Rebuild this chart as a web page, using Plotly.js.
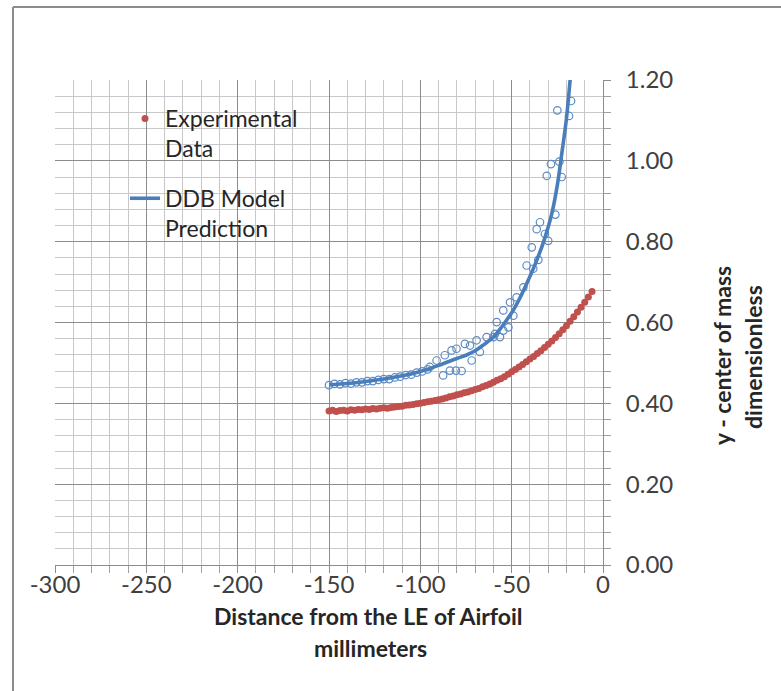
<!DOCTYPE html>
<html>
<head>
<meta charset="utf-8">
<script src="https://cdn.plot.ly/plotly-3.0.1.min.js"></script>
<style>html,body{margin:0;padding:0;background:#fff;}#chart{width:781px;height:691px;}</style>
</head>
<body>
<div id="chart"></div>
<script>
// Experimental data (red markers)
const expX = [-150,-148,-146,-144,-142,-140,-138,-136,-134,-132,-130,-128,-126,-124,-122,-120,-118,-116,-114,-112,-110,-108,-106,-104,-102,-100,-98,-96,-94,-92,-90,-88,-86,-84,-82,-80,-78,-76,-74,-72,-70,-68,-66,-64,-62,-60,-58,-56,-54,-52,-50,-48,-46,-44,-42,-40,-38,-36,-34,-32,-30,-28,-26,-24,-22,-20,-18,-16,-14,-12,-10,-8,-6];
const expY = [0.381,0.383,0.380,0.382,0.383,0.381,0.384,0.383,0.385,0.384,0.386,0.385,0.387,0.386,0.388,0.389,0.388,0.390,0.391,0.392,0.393,0.395,0.396,0.397,0.399,0.400,0.402,0.404,0.405,0.407,0.409,0.411,0.413,0.416,0.418,0.421,0.423,0.426,0.428,0.431,0.434,0.437,0.441,0.444,0.448,0.452,0.457,0.461,0.466,0.472,0.478,0.484,0.490,0.496,0.503,0.510,0.516,0.523,0.530,0.538,0.546,0.554,0.563,0.572,0.582,0.592,0.603,0.614,0.626,0.638,0.650,0.663,0.677];

// DDB model prediction (blue line)
const modelX = [-150,-140,-130,-120,-110,-100,-90,-80,-75,-70,-65,-60,-55,-50,-46,-41,-36,-32,-28,-25,-22.5,-20,-18,-17];
const modelY = [0.446,0.449,0.454,0.460,0.468,0.479,0.494,0.511,0.519,0.530,0.546,0.564,0.592,0.624,0.656,0.704,0.757,0.807,0.870,0.940,1.020,1.105,1.200,1.250];

// Blue open circles (not in legend)
const circX = [-150,-147,-144,-141,-138,-135,-132,-129,-126,-123,-120,-117,-114,-111,-108,-105,-102,-99,-96,
  -94.8,-91.1,-87.5,-86.6,-83.8,-82.9,-80.5,-80.2,-77.4,-75.6,-72.8,-71.9,-69.2,-67.4,-63.7,-60,-59.1,-58.2,-56.4,-54.6,-54.6,-51.8,-50.9,-49.1,-47.3,
  -43.6,-41.8,-39,-38.2,-36.3,-35.4,-34.5,-31.8,-30,-30.8,-28.5,-26.1,-25,-23.9,-22.6,-18.6,-17.5];
const circY = [0.445,0.448,0.447,0.450,0.449,0.452,0.452,0.455,0.455,0.458,0.460,0.460,0.464,0.466,0.470,0.471,0.476,0.479,0.484,
  0.490,0.506,0.469,0.519,0.481,0.531,0.481,0.535,0.480,0.547,0.543,0.506,0.556,0.527,0.564,0.564,0.572,0.601,0.564,0.580,0.630,0.588,0.650,0.617,0.662,
  0.687,0.741,0.786,0.733,0.831,0.755,0.848,0.819,0.802,0.963,0.992,0.867,1.125,0.998,0.960,1.111,1.148];

// Tick labels
const xTickVals = [-300,-250,-200,-150,-100,-50,0];
const xTickText = ['-300','-250','-200','-150','-100','-50','0'];
const yTickVals = [0,0.2,0.4,0.6,0.8,1.0,1.2];
const yTickText = ['0.00','0.20','0.40','0.60','0.80','1.00','1.20'];

const FONT = 'Lato, Carlito, "Open Sans", sans-serif';

const traces = [
  {x: circX, y: circY, type: 'scatter', mode: 'markers', showlegend: false,
   marker: {symbol: 'circle-open', size: 7.5, color: '#5b8bc5', line: {width: 1.2, color: '#5b8bc5'}}},
  {x: modelX, y: modelY, type: 'scatter', mode: 'lines', name: 'DDB Model<br>Prediction',
   legendrank: 2, legendgroup: 'b',
   line: {color: '#4a7ebb', width: 3.6, shape: 'spline', smoothing: 1}},
  {x: expX, y: expY, type: 'scatter', mode: 'markers', name: 'Experimental<br>Data',
   legendrank: 1, legendgroup: 'a',
   marker: {symbol: 'circle', size: 7, color: '#c0504d'}}
];

const layout = {
  width: 781, height: 691,
  margin: {l: 55, r: 178, t: 80, b: 126},
  paper_bgcolor: '#ffffff', plot_bgcolor: '#ffffff',
  font: {family: FONT, color: '#404040', size: 23},
  showlegend: true,
  legend: {x: (125-55)/548, y: (565-97)/485, xanchor: 'left', yanchor: 'top',
           bgcolor: 'rgba(0,0,0,0)', font: {family: FONT, size: 23, color: '#262626'},
           valign: 'top', tracegroupgap: 17, traceorder: 'grouped'},
  xaxis: {range: [-300, 0], tickvals: xTickVals, ticktext: xTickText,
          showgrid: true, gridcolor: '#8c8c8c', gridwidth: 1,
          zeroline: false, showline: true, linecolor: '#8c8c8c', linewidth: 1,
          ticks: 'outside', ticklen: 7, tickcolor: '#8c8c8c', ticklabelstandoff: -9,
          tickfont: {family: FONT, size: 24, color: '#404040'},
          minor: {dtick: 10, showgrid: true, gridcolor: '#c8c8c8', ticks: 'outside', ticklen: 7, tickcolor: '#a0a0a0'},
          fixedrange: true},
  yaxis: {range: [0, 1.2], side: 'right', tickvals: yTickVals, ticktext: yTickText,
          showgrid: true, gridcolor: '#8c8c8c', gridwidth: 1,
          zeroline: false, showline: true, linecolor: '#8c8c8c', linewidth: 1,
          ticks: 'outside', ticklen: 7, tickcolor: '#8c8c8c', ticklabelstandoff: 10,
          tickfont: {family: FONT, size: 24, color: '#404040'},
          minor: {dtick: 0.04, showgrid: true, gridcolor: '#c8c8c8', ticks: 'outside', ticklen: 7, tickcolor: '#a0a0a0'},
          fixedrange: true},
  annotations: [
    {text: '<b>Distance from the LE of Airfoil</b>', xref: 'paper', yref: 'paper',
     x: (368-55)/548, y: (565-616)/485, xanchor: 'center', yanchor: 'middle', showarrow: false,
     font: {family: FONT, size: 23, color: '#262626'}},
    {text: '<b>millimeters</b>', xref: 'paper', yref: 'paper',
     x: (370-55)/548, y: (565-648)/485, xanchor: 'center', yanchor: 'middle', showarrow: false,
     font: {family: FONT, size: 23, color: '#262626'}},
    {text: '<b>y - center of mass</b>', xref: 'paper', yref: 'paper', textangle: -90,
     x: (722-55)/548, y: (565-356)/485, xanchor: 'center', yanchor: 'middle', showarrow: false,
     font: {family: FONT, size: 23, color: '#262626'}},
    {text: '<b>dimensionless</b>', xref: 'paper', yref: 'paper', textangle: -90,
     x: (753-55)/548, y: (565-357)/485, xanchor: 'center', yanchor: 'middle', showarrow: false,
     font: {family: FONT, size: 23, color: '#262626'}}
  ],
  shapes: [
    {type: 'line', xref: 'paper', yref: 'paper', x0: (13-55)/548, x1: (13-55)/548,
     y0: (565-7)/485, y1: (565-700)/485, line: {color: '#8c8c8c', width: 2}},
    {type: 'line', xref: 'paper', yref: 'paper', x0: (13-55)/548, x1: (790-55)/548,
     y0: (565-7)/485, y1: (565-7)/485, line: {color: '#8c8c8c', width: 2}}
  ]
};

Plotly.newPlot('chart', traces, layout, {displayModeBar: false, staticPlot: true});
</script>
</body>
</html>
